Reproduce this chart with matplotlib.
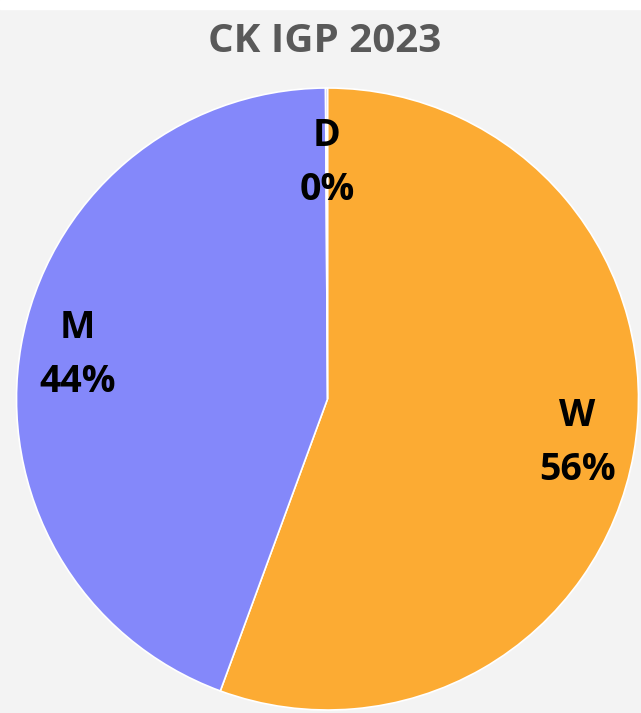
import numpy as np
import matplotlib.pyplot as plt
from matplotlib.patches import Rectangle

# ── data ─────────────────────────────────────────
labels = ['W', 'M', 'D']
shares = [55.6, 44.3, 0.1]
colors = ['#FCAB33', '#8488FA', '#8488FA']
label_dist = [0.815, 0.815, 0.76]

W, H = 641, 713
fig = plt.figure(figsize=(W / 100, H / 100), dpi=100)
fig.patch.set_facecolor('#f3f3f3')
fig.add_artist(Rectangle((0, 1 - 9 / H), 1, 9 / H, transform=fig.transFigure,
                         color='white', zorder=0))

cx, cy, r = 327.5, 399, 311
ax = fig.add_axes([(cx - r) / W, (H - cy - r) / H, 2 * r / W, 2 * r / H])
ax.set_facecolor('none')

wedges, _ = ax.pie(shares, colors=colors, startangle=90, counterclock=False,
                   radius=1, wedgeprops=dict(edgecolor='white', linewidth=1.2))
ax.set_xlim(-1, 1); ax.set_ylim(-1, 1)
ax.axis('off')

font = ['Open Sans', 'DejaVu Sans']
for w, lab, v, d in zip(wedges, labels, shares, label_dist):
    ang = np.deg2rad((w.theta1 + w.theta2) / 2)
    ax.text(d * np.cos(ang), d * np.sin(ang), f'{lab}\n{v:.0f}%',
            ha='center', va='center', fontsize=27, fontweight='bold',
            family=font, linespacing=1.55, color='black')

fig.text(0.507, 1 - 42 / H, 'CK IGP 2023', ha='center', va='center',
         fontsize=29, fontweight='bold', color='#595959', family=font)

plt.savefig('out.png', dpi=100)
